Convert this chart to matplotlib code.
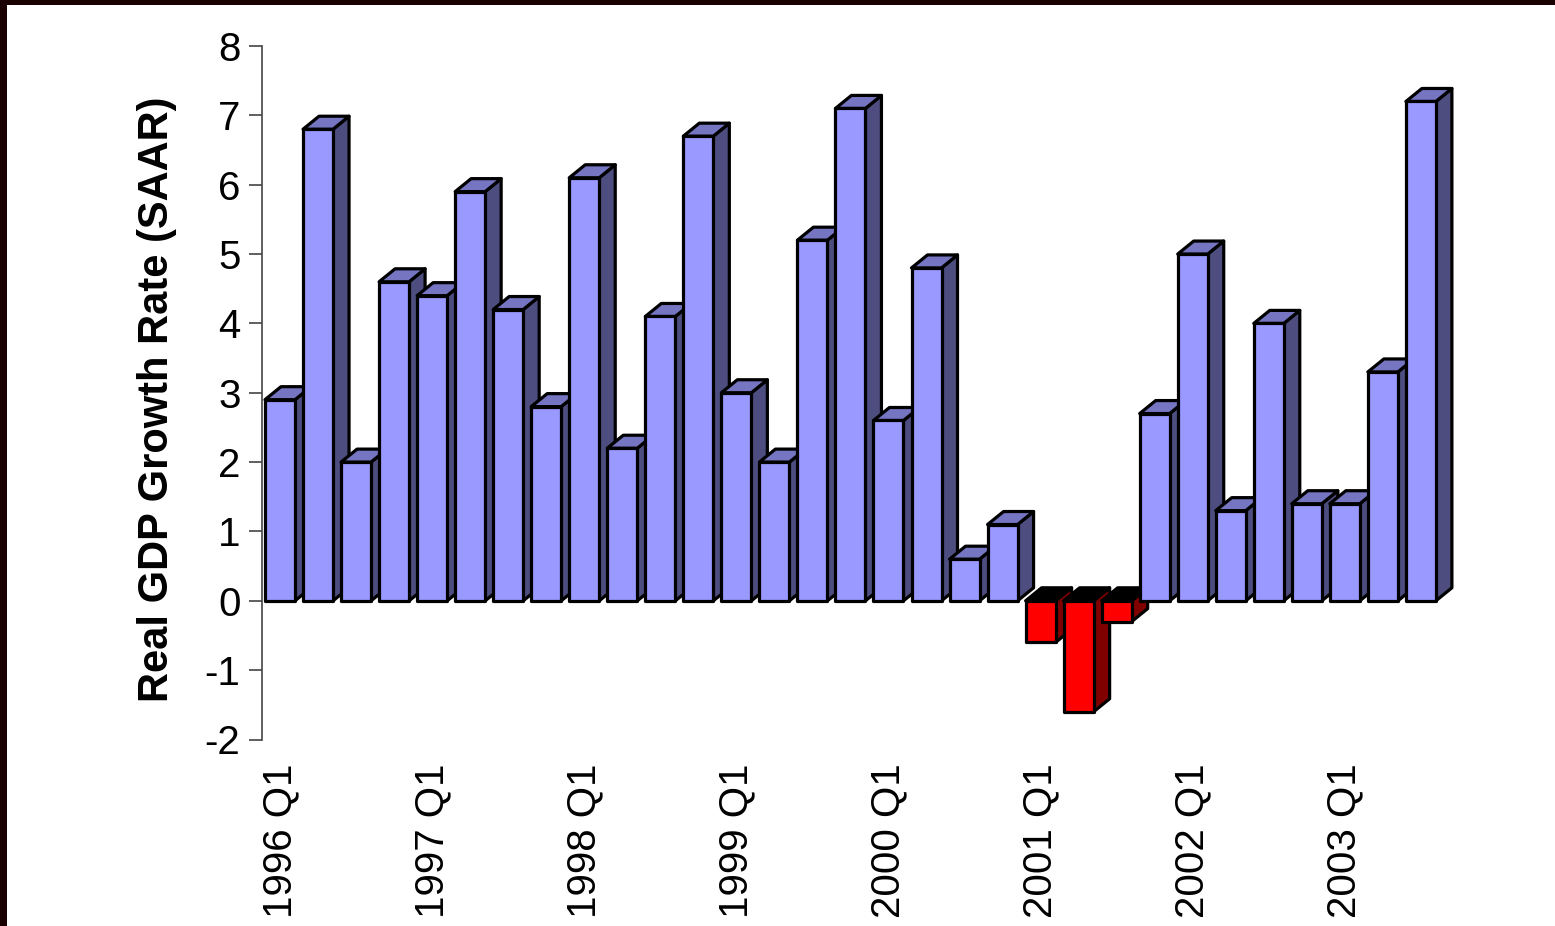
import numpy as np
import matplotlib
matplotlib.use("Agg")
import matplotlib.pyplot as plt
from matplotlib.patches import Polygon, Rectangle

# Real GDP growth, quarterly, 1996 Q1 - 2003 Q3
years = [1996, 1997, 1998, 1999, 2000, 2001, 2002, 2003]
growth = [2.9, 6.8, 2.0, 4.6,
          4.4, 5.9, 4.2, 2.8,
          6.1, 2.2, 4.1, 6.7,
          3.0, 2.0, 5.2, 7.1,
          2.6, 4.8, 0.6, 1.1,
          -0.6, -1.6, -0.3, 2.7,
          5.0, 1.3, 4.0, 1.4,
          1.4, 3.3, 7.2]
tick_labels = [f"{y} Q1" for y in years]
tick_pos = [4 * i for i in range(len(years))]
y_ticks = list(range(-2, 9))

plt.rcParams['font.family'] = ['Liberation Sans', 'DejaVu Sans']

W, H = 1555, 926
fig = plt.figure(figsize=(W / 100, H / 100), dpi=100)
fig.patch.set_facecolor('#1a0000')
# white slide area inside the dark border
fig.add_artist(Rectangle((7 / W, 0), 1 - 7 / W, (H - 5) / H, transform=fig.transFigure,
                         facecolor='white', edgecolor='none', zorder=0))

ax_left, ax_right = 262, 1460
ax_top, ax_bot = 46, 739.5
ax = fig.add_axes([ax_left / W, (H - ax_bot) / H, (ax_right - ax_left) / W, (ax_bot - ax_top) / H])
ax.set_facecolor('none')

# bar layout in pixels -> data units
step_px = 38.03
width = 30 / step_px
x0 = -width / 2 - 3 / step_px
ax.set_xlim(x0, x0 + (ax_right - ax_left) / step_px)
ax.set_ylim(-2, 8)
px_y = (ax_bot - ax_top) / 10
dx = 16 / step_px
dy = 13 / px_y

front_pos, side_pos, top_pos = '#9999ff', '#4d4d80', '#7575c2'
front_neg, side_neg, top_neg = '#ff0000', '#800000', '#000000'

for i, v in enumerate(growth):
    a = i - width / 2
    b = i + width / 2
    if v >= 0:
        fc, sc, tc = front_pos, side_pos, top_pos
    else:
        fc, sc, tc = front_neg, side_neg, top_neg
    lo, hi = min(v, 0), max(v, 0)
    side = [(b, lo), (b + dx, lo + dy), (b + dx, hi + dy), (b, hi)]
    top = [(a, hi), (a + dx, hi + dy), (b + dx, hi + dy), (b, hi)]
    front = [(a, lo), (b, lo), (b, hi), (a, hi)]
    for pts, c in [(side, sc), (top, tc), (front, fc)]:
        ax.add_patch(Polygon(pts, closed=True, facecolor=c, edgecolor='black',
                             linewidth=2.3, joinstyle='round', zorder=2 + i * 0.01))

for s in ['top', 'right', 'bottom']:
    ax.spines[s].set_visible(False)
ax.spines['left'].set_color('#444444')
ax.spines['left'].set_linewidth(1.2)

ax.set_yticks(y_ticks)
ax.set_yticklabels([str(t) for t in y_ticks])
ax.tick_params(axis='y', direction='out', length=9.5, width=1.2, color='#444444',
               labelsize=29, pad=6)
ax.set_xticks(tick_pos)
ax.set_xticklabels(tick_labels, rotation=90)
ax.tick_params(axis='x', length=0, labelsize=29, pad=17)

fig.text(157 / W, 1 - 399 / H, 'Real GDP Growth Rate (SAAR)', rotation=90,
         ha='center', va='center', fontsize=30, fontweight='bold')

fig.savefig('out.png', dpi=100, facecolor=fig.get_facecolor())
